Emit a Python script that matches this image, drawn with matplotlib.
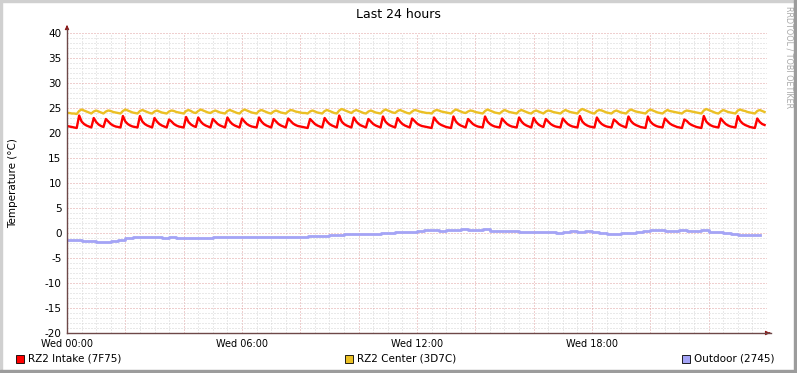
import numpy as np
import matplotlib
matplotlib.use("Agg")
import matplotlib.pyplot as plt
from matplotlib.patches import Rectangle

# 5-minute samples, Wed 00:00 -> 24:00
intake = [
    21.4, 21.3, 21.2, 21.1, 21.0,
    23.5, 22.3, 21.8, 21.5, 21.3, 21.1,
    23.0, 22.2, 21.7, 21.4, 21.2,
    22.8, 22.3, 21.8, 21.5, 21.3, 21.2, 21.1,
    23.4, 22.3, 21.8, 21.5, 21.3, 21.2, 21.1,
    23.4, 22.3, 21.8, 21.5, 21.3, 21.1,
    23.0, 22.3, 21.8, 21.5, 21.3, 21.1,
    22.7, 22.3, 21.8, 21.5, 21.3, 21.2, 21.1,
    23.2, 22.2, 21.7, 21.4, 21.2,
    23.1, 22.3, 21.8, 21.5, 21.3, 21.1,
    22.8, 22.3, 21.8, 21.5, 21.3, 21.1,
    23.1, 22.3, 21.8, 21.5, 21.3, 21.1,
    22.9, 22.3, 21.8, 21.5, 21.3, 21.2, 21.1,
    23.1, 22.3, 21.8, 21.5, 21.3, 21.1,
    22.8, 22.3, 21.8, 21.5, 21.3, 21.1,
    22.9, 22.4, 21.9, 21.6, 21.4, 21.3, 21.2, 21.1, 21.0,
    22.8, 22.3, 21.8, 21.5, 21.3, 21.1,
    23.0, 22.3, 21.8, 21.5, 21.3, 21.1,
    23.5, 22.3, 21.8, 21.5, 21.3, 21.1,
    23.1, 22.3, 21.8, 21.5, 21.3, 21.1,
    22.8, 22.3, 21.8, 21.5, 21.3, 21.1,
    23.3, 22.3, 21.8, 21.5, 21.3, 21.1,
    23.0, 22.3, 21.8, 21.5, 21.3, 21.1,
    22.9, 22.4, 21.9, 21.6, 21.4, 21.3, 21.2, 21.1, 21.0,
    23.1, 22.4, 21.9, 21.6, 21.4, 21.2, 21.1, 21.0,
    23.3, 22.3, 21.8, 21.5, 21.3, 21.1,
    22.8, 22.3, 21.8, 21.5, 21.3, 21.2, 21.1,
    23.3, 22.3, 21.8, 21.5, 21.3, 21.2, 21.1,
    22.9, 22.3, 21.8, 21.5, 21.3, 21.2, 21.1,
    23.1, 22.3, 21.8, 21.5, 21.3, 21.1,
    23.0, 22.2, 21.7, 21.4, 21.2,
    22.8, 22.3, 21.8, 21.5, 21.3, 21.2, 21.1,
    22.9, 22.3, 21.8, 21.5, 21.3, 21.2, 21.1,
    23.4, 22.3, 21.8, 21.5, 21.3, 21.2, 21.1,
    23.1, 22.3, 21.8, 21.5, 21.3, 21.2, 21.1,
    22.7, 22.3, 21.8, 21.5, 21.3, 21.1,
    23.3, 22.4, 21.9, 21.6, 21.4, 21.2, 21.1, 21.0,
    23.3, 22.3, 21.8, 21.5, 21.3, 21.2, 21.1,
    22.9, 22.4, 21.9, 21.6, 21.4, 21.2, 21.1, 21.0,
    22.7, 22.4, 21.9, 21.6, 21.4, 21.2, 21.1, 21.0,
    23.4, 22.3, 21.8, 21.5, 21.3, 21.2, 21.1,
    22.9, 22.3, 21.8, 21.5, 21.3, 21.2, 21.1,
    23.4, 22.4, 21.9, 21.6, 21.4, 21.2, 21.1, 21.0,
    22.9, 22.2, 21.8, 21.6,
]

center = [
    24.0, 24.0, 23.9, 23.9, 23.8,
    24.4, 24.7, 24.5, 24.3, 24.1, 23.9,
    24.3, 24.5, 24.3, 24.1, 23.9,
    24.3, 24.5, 24.4, 24.2, 24.1, 24.0, 23.9,
    24.4, 24.7, 24.5, 24.3, 24.1, 24.0, 23.9,
    24.4, 24.6, 24.4, 24.2, 24.0, 23.9,
    24.3, 24.5, 24.3, 24.1, 24.0, 23.9,
    24.3, 24.5, 24.4, 24.2, 24.1, 24.0, 23.9,
    24.4, 24.6, 24.4, 24.1, 24.0,
    24.4, 24.7, 24.5, 24.3, 24.1, 24.0,
    24.3, 24.5, 24.3, 24.1, 24.0, 23.9,
    24.4, 24.6, 24.4, 24.2, 24.0, 23.9,
    24.4, 24.7, 24.5, 24.3, 24.1, 24.0, 23.9,
    24.4, 24.6, 24.4, 24.2, 24.0, 23.9,
    24.3, 24.5, 24.3, 24.1, 24.0, 23.9,
    24.3, 24.6, 24.5, 24.3, 24.2, 24.1, 24.0, 24.0, 23.9,
    24.3, 24.5, 24.3, 24.1, 24.0, 23.9,
    24.4, 24.6, 24.4, 24.2, 24.0, 23.9,
    24.5, 24.8, 24.6, 24.4, 24.2, 24.0,
    24.4, 24.6, 24.4, 24.2, 24.0, 23.9,
    24.3, 24.5, 24.3, 24.1, 24.0, 23.9,
    24.4, 24.7, 24.5, 24.3, 24.1, 24.0,
    24.4, 24.6, 24.4, 24.2, 24.0, 23.9,
    24.3, 24.6, 24.5, 24.3, 24.2, 24.1, 24.0, 24.0, 23.9,
    24.4, 24.6, 24.5, 24.3, 24.2, 24.1, 24.0, 23.9,
    24.4, 24.7, 24.5, 24.3, 24.1, 24.0,
    24.3, 24.5, 24.4, 24.2, 24.1, 24.0, 23.9,
    24.4, 24.7, 24.5, 24.3, 24.1, 24.0, 23.9,
    24.3, 24.6, 24.4, 24.2, 24.1, 24.0, 23.9,
    24.4, 24.6, 24.4, 24.2, 24.0, 23.9,
    24.3, 24.5, 24.3, 24.1, 23.9,
    24.3, 24.5, 24.4, 24.2, 24.1, 24.0, 23.9,
    24.3, 24.6, 24.4, 24.2, 24.1, 24.0, 23.9,
    24.5, 24.8, 24.6, 24.4, 24.2, 24.0, 23.9,
    24.4, 24.6, 24.5, 24.3, 24.1, 24.0, 23.9,
    24.3, 24.5, 24.3, 24.1, 24.0, 23.9,
    24.4, 24.7, 24.5, 24.3, 24.2, 24.1, 24.0, 23.9,
    24.4, 24.7, 24.5, 24.3, 24.1, 24.0, 23.9,
    24.3, 24.6, 24.4, 24.3, 24.2, 24.1, 24.0, 23.9,
    24.3, 24.5, 24.4, 24.3, 24.2, 24.1, 24.0, 23.9,
    24.5, 24.8, 24.6, 24.4, 24.2, 24.0, 23.9,
    24.3, 24.6, 24.4, 24.2, 24.1, 24.0, 23.9,
    24.5, 24.7, 24.5, 24.4, 24.2, 24.1, 24.0, 23.9,
    24.4, 24.6, 24.4, 24.2,
]

# 15-minute samples
outdoor = [
    -1.3, -1.4, -1.5, -1.6, -1.8, -1.8, -1.6, -1.4, -0.9, -0.8, -0.8, -0.8,
    -0.8, -0.9, -0.8, -0.9, -0.9, -1.0, -0.9, -0.9, -0.8, -0.7, -0.7, -0.7,
    -0.8, -0.7, -0.8, -0.8, -0.7, -0.7, -0.8, -0.7, -0.7, -0.6, -0.5, -0.5,
    -0.4, -0.3, -0.2, -0.2, -0.1, -0.2, -0.1, 0.0, 0.1, 0.2, 0.2, 0.3,
    0.5, 0.6, 0.6, 0.5, 0.6, 0.6, 0.8, 0.7, 0.7, 0.8, 0.5, 0.5,
    0.5, 0.4, 0.2, 0.2, 0.2, 0.3, 0.2, 0.1, 0.3, 0.4, 0.3, 0.4,
    0.3, 0.1, -0.2, -0.2, 0.0, 0.1, 0.3, 0.4, 0.6, 0.6, 0.5, 0.5,
    0.6, 0.5, 0.5, 0.6, 0.2, 0.2, 0.1, -0.2, -0.3, -0.3, -0.3, -0.3,
]

series_names = ["RZ2 Intake (7F75)", "RZ2 Center (3D7C)", "Outdoor (2745)"]
series_colors = ["#FF0000", "#EBC024", "#A4A4F6"]

x_label_hours = [0, 6, 12, 18]
x_labels = ["Wed 00:00", "Wed 06:00", "Wed 12:00", "Wed 18:00"]
y_ticks = [-20, -15, -10, -5, 0, 5, 10, 15, 20, 25, 30, 35, 40]

W, H = 797, 373
fig = plt.figure(figsize=(W / 100, H / 100), dpi=100, facecolor="white")

# rrdtool style frame
fig.patches.append(Rectangle((0, 0), 2 / W, 1, transform=fig.transFigure, color="#D0D0D0"))
fig.patches.append(Rectangle((0, 1 - 2 / H), 1, 2 / H, transform=fig.transFigure, color="#D0D0D0"))
fig.patches.append(Rectangle((1 - 3 / W, 0), 3 / W, 1, transform=fig.transFigure, color="#9C9C9C"))
fig.patches.append(Rectangle((0, 0), 1, 3 / H, transform=fig.transFigure, color="#9C9C9C"))

ax = fig.add_axes([67 / W, 40 / H, 700 / W, 300 / H])
ax.set_xlim(0, 24)
ax.set_ylim(-20, 40)
for s in ax.spines.values():
    s.set_visible(False)

ax.set_xticks(np.arange(0, 24.01, 2))
ax.set_xticks(np.arange(0, 24.01, 0.5), minor=True)
ax.set_yticks(y_ticks)
ax.set_yticks(np.arange(-20, 41, 1), minor=True)
ax.grid(which="minor", color="#D4D4D4", linestyle=(0, (1, 2)), lw=0.72)
ax.grid(which="major", color="#E0A0A0", linestyle=(0, (1, 2)), lw=0.72)
ax.tick_params(which="both", length=0)
ax.tick_params(axis="y", labelsize=7.5, pad=4)
ax.set_yticklabels([str(v) for v in y_ticks])
ax.set_xticklabels(["" for _ in ax.get_xticks()])
for h, lab in zip(x_label_hours, x_labels):
    ax.text(h, -21.2, lab, ha="center", va="top", fontsize=7)

t5 = np.arange(len(intake)) * 5 / 60
ax.plot(t5, intake, color=series_colors[0], lw=1.7, zorder=3)
t5c = np.arange(len(center)) * 5 / 60
ax.plot(t5c, center, color=series_colors[1], lw=1.7, zorder=3)
t15 = np.arange(len(outdoor)) * 15 / 60
ax.plot(t15, outdoor, color=series_colors[2], lw=2.0, drawstyle="steps-post", zorder=3)

# axes with arrows
axis_col = "#6E4848"
ax.plot([0, 24.15], [-20, -20], color=axis_col, lw=1, clip_on=False, zorder=4)
ax.plot([0, 0], [-20, 40.9], color=axis_col, lw=1, clip_on=False, zorder=4)
ax.annotate("", xy=(24.2, -20), xytext=(24.0, -20),
            arrowprops=dict(arrowstyle="-|>", color="#8B1A1A", lw=0.8, mutation_scale=6),
            annotation_clip=False)
ax.annotate("", xy=(0, 41.6), xytext=(0, 40.6),
            arrowprops=dict(arrowstyle="-|>", color="#8B1A1A", lw=0.8, mutation_scale=6),
            annotation_clip=False)

fig.text(398 / W, 1 - 14 / H, "Last 24 hours", ha="center", va="center", fontsize=9)
fig.text(13 / W, 1 - 183 / H, "Temperature (°C)", ha="center", va="center",
         rotation=90, fontsize=7.5)
fig.text(789 / W, 1 - 6 / H, "RRDTOOL / TOBI OETIKER", ha="center", va="top",
         rotation=-90, fontsize=5.8, color="#A8A8A8")

legend_x = [16, 345, 682]
for lx, name, col in zip(legend_x, series_names, series_colors):
    fig.patches.append(Rectangle((lx / W, 1 - 363 / H), 8 / W, 8 / H,
                                 transform=fig.transFigure, facecolor=col,
                                 edgecolor="black", lw=0.6))
    fig.text((lx + 12) / W, 1 - 358.5 / H, name, ha="left", va="center", fontsize=7.5)

fig.savefig("out.png", dpi=100, facecolor="white")
